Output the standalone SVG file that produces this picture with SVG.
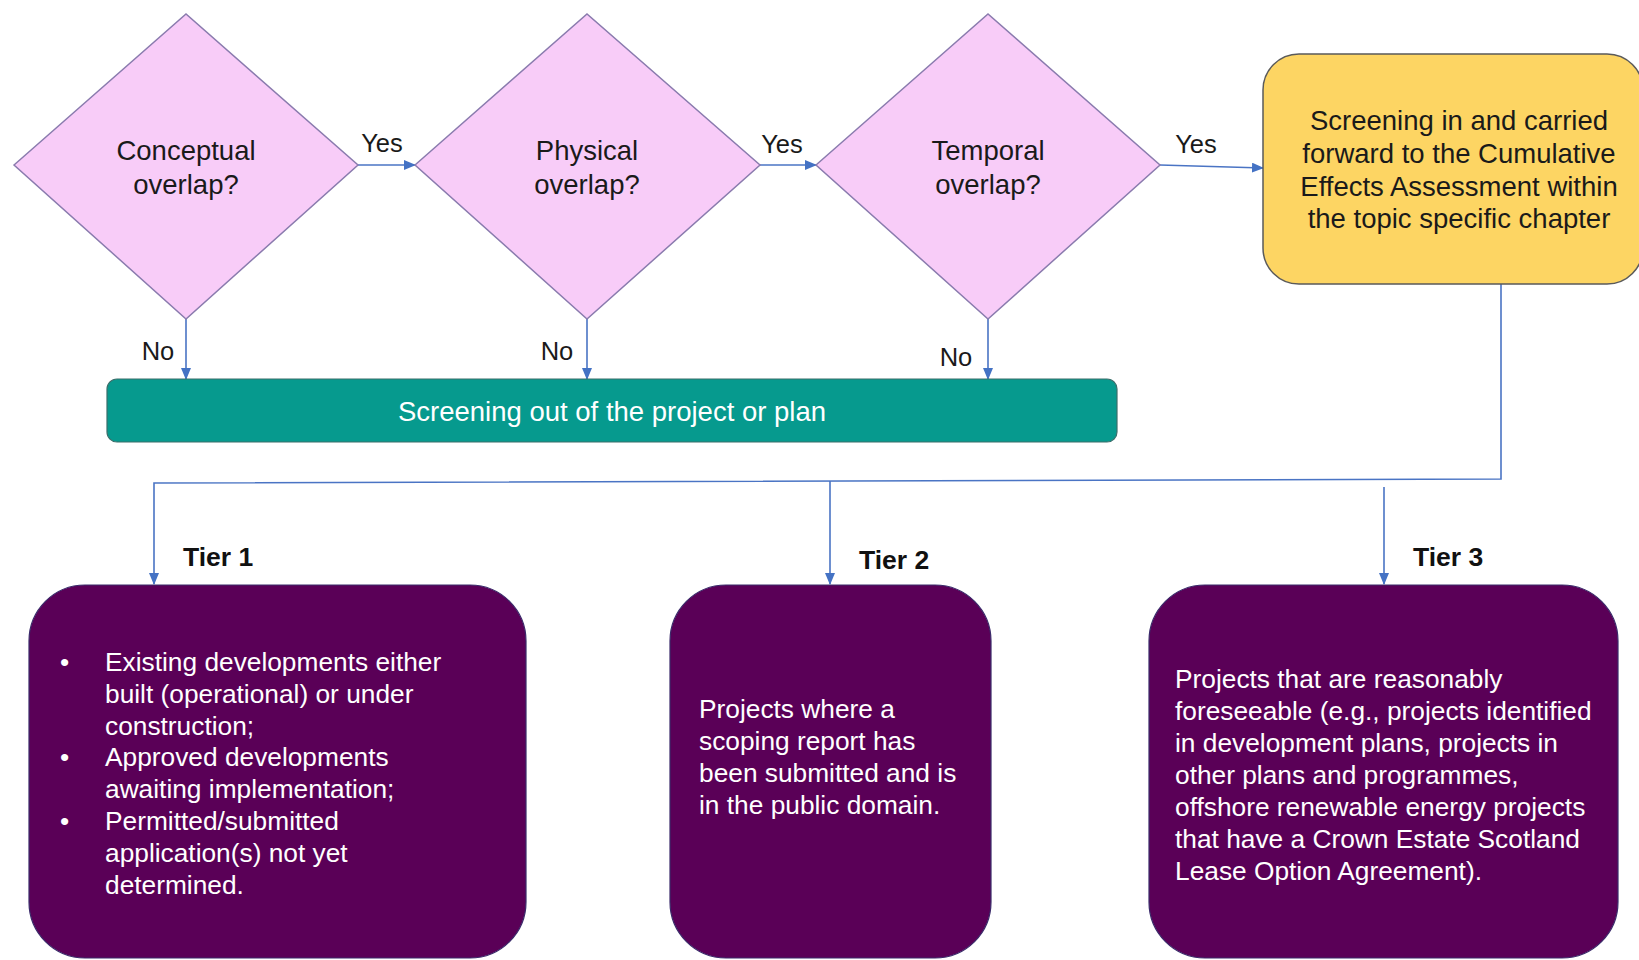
<svg xmlns="http://www.w3.org/2000/svg" width="1639" height="960" viewBox="0 0 1639 960">
<style>
  .dia { fill: #F8CCF8; stroke: #8A7BAE; stroke-width: 1.5; }
  .tier { fill: #5A0057; stroke: #3A2A6A; stroke-width: 1.2; }
  .con { fill: none; stroke: #4A74C4; stroke-width: 1.6; }
  text { font-family: "Liberation Sans", Arial, sans-serif; }
  .dt { font-size: 27.5px; fill: #1a1a1a; text-anchor: middle; }
  .lbl { font-size: 25.5px; fill: #1a1a1a; text-anchor: middle; }
  .tl { font-size: 26.5px; font-weight: bold; fill: #111; }
  .wt { font-size: 26.3px; fill: #ffffff; }
</style>
<defs>
  <marker id="arr" markerUnits="userSpaceOnUse" markerWidth="12" markerHeight="10" refX="11" refY="5" orient="auto">
    <path d="M0,0 L12,5 L0,10 Z" fill="#4472C4"/>
  </marker>
</defs>
<rect width="1639" height="960" fill="#ffffff"/>

<g id="connectors">
  <line class="con" x1="358" y1="165" x2="415" y2="165" marker-end="url(#arr)"/>
  <line class="con" x1="760" y1="165" x2="816" y2="165" marker-end="url(#arr)"/>
  <line class="con" x1="1160" y1="165" x2="1263" y2="168" marker-end="url(#arr)"/>
  <line class="con" x1="186" y1="319" x2="186" y2="379" marker-end="url(#arr)"/>
  <line class="con" x1="587" y1="319" x2="587" y2="379" marker-end="url(#arr)"/>
  <line class="con" x1="988" y1="319" x2="988" y2="379" marker-end="url(#arr)"/>
  <path class="con" d="M1501,284 V479 L154,483 V584" marker-end="url(#arr)"/>
  <line class="con" x1="830" y1="481" x2="830" y2="584" marker-end="url(#arr)"/>
  <line class="con" x1="1384" y1="487" x2="1384" y2="584" marker-end="url(#arr)"/>
  <text class="lbl" x="382" y="152">Yes</text>
  <text class="lbl" x="782" y="153">Yes</text>
  <text class="lbl" x="1196" y="153">Yes</text>
  <text class="lbl" x="158" y="360">No</text>
  <text class="lbl" x="557" y="360">No</text>
  <text class="lbl" x="956" y="366">No</text>
</g>

<g id="conceptual">
  <polygon class="dia" points="14,165 186,14 358,165 186,319"/>
  <text class="dt" x="186" y="160">Conceptual</text>
  <text class="dt" x="186" y="194">overlap?</text>
</g>
<g id="physical">
  <polygon class="dia" points="415,165 587,14 760,165 587,319"/>
  <text class="dt" x="587" y="160">Physical</text>
  <text class="dt" x="587" y="194">overlap?</text>
</g>
<g id="temporal">
  <polygon class="dia" points="816,165 988,14 1160,165 988,319"/>
  <text class="dt" x="988" y="160">Temporal</text>
  <text class="dt" x="988" y="194">overlap?</text>
</g>

<g id="screening-in">
  <rect x="1263" y="54" width="380" height="230" rx="36" fill="#FDD563" stroke="#5a5a5a" stroke-width="1.5"/>
  <text class="dt" x="1459" y="130">Screening in and carried</text>
  <text class="dt" x="1459" y="163">forward to the Cumulative</text>
  <text class="dt" x="1459" y="196">Effects Assessment within</text>
  <text class="dt" x="1459" y="228">the topic specific chapter</text>
</g>

<g id="screening-out">
  <rect x="107" y="379" width="1010" height="63" rx="10" fill="#069A8E" stroke="#3B6F6B" stroke-width="1.2"/>
  <text x="612" y="421" font-size="27.5" fill="#ffffff" text-anchor="middle">Screening out of the project or plan</text>
</g>

<g id="tier1">
  <text class="tl" x="183" y="566">Tier 1</text>
  <rect class="tier" x="29" y="585" width="497" height="373" rx="56"/>
  <text class="wt" x="60" y="671">•</text>
  <text class="wt" x="105" y="671">Existing developments either</text>
  <text class="wt" x="105" y="703">built (operational) or under</text>
  <text class="wt" x="105" y="735">construction;</text>
  <text class="wt" x="60" y="766">•</text>
  <text class="wt" x="105" y="766">Approved developments</text>
  <text class="wt" x="105" y="798">awaiting implementation;</text>
  <text class="wt" x="60" y="830">•</text>
  <text class="wt" x="105" y="830">Permitted/submitted</text>
  <text class="wt" x="105" y="862">application(s) not yet</text>
  <text class="wt" x="105" y="894">determined.</text>
</g>

<g id="tier2">
  <text class="tl" x="859" y="569">Tier 2</text>
  <rect class="tier" x="670" y="585" width="321" height="373" rx="56"/>
  <text class="wt" x="699" y="718">Projects where a</text>
  <text class="wt" x="699" y="750">scoping report has</text>
  <text class="wt" x="699" y="782">been submitted and is</text>
  <text class="wt" x="699" y="814">in the public domain.</text>
</g>

<g id="tier3">
  <text class="tl" x="1413" y="566">Tier 3</text>
  <rect class="tier" x="1149" y="585" width="469" height="373" rx="56"/>
  <text class="wt" x="1175" y="688">Projects that are reasonably</text>
  <text class="wt" x="1175" y="720">foreseeable (e.g., projects identified</text>
  <text class="wt" x="1175" y="752">in development plans, projects in</text>
  <text class="wt" x="1175" y="784">other plans and programmes,</text>
  <text class="wt" x="1175" y="816">offshore renewable energy projects</text>
  <text class="wt" x="1175" y="848">that have a Crown Estate Scotland</text>
  <text class="wt" x="1175" y="880">Lease Option Agreement).</text>
</g>
</svg>
